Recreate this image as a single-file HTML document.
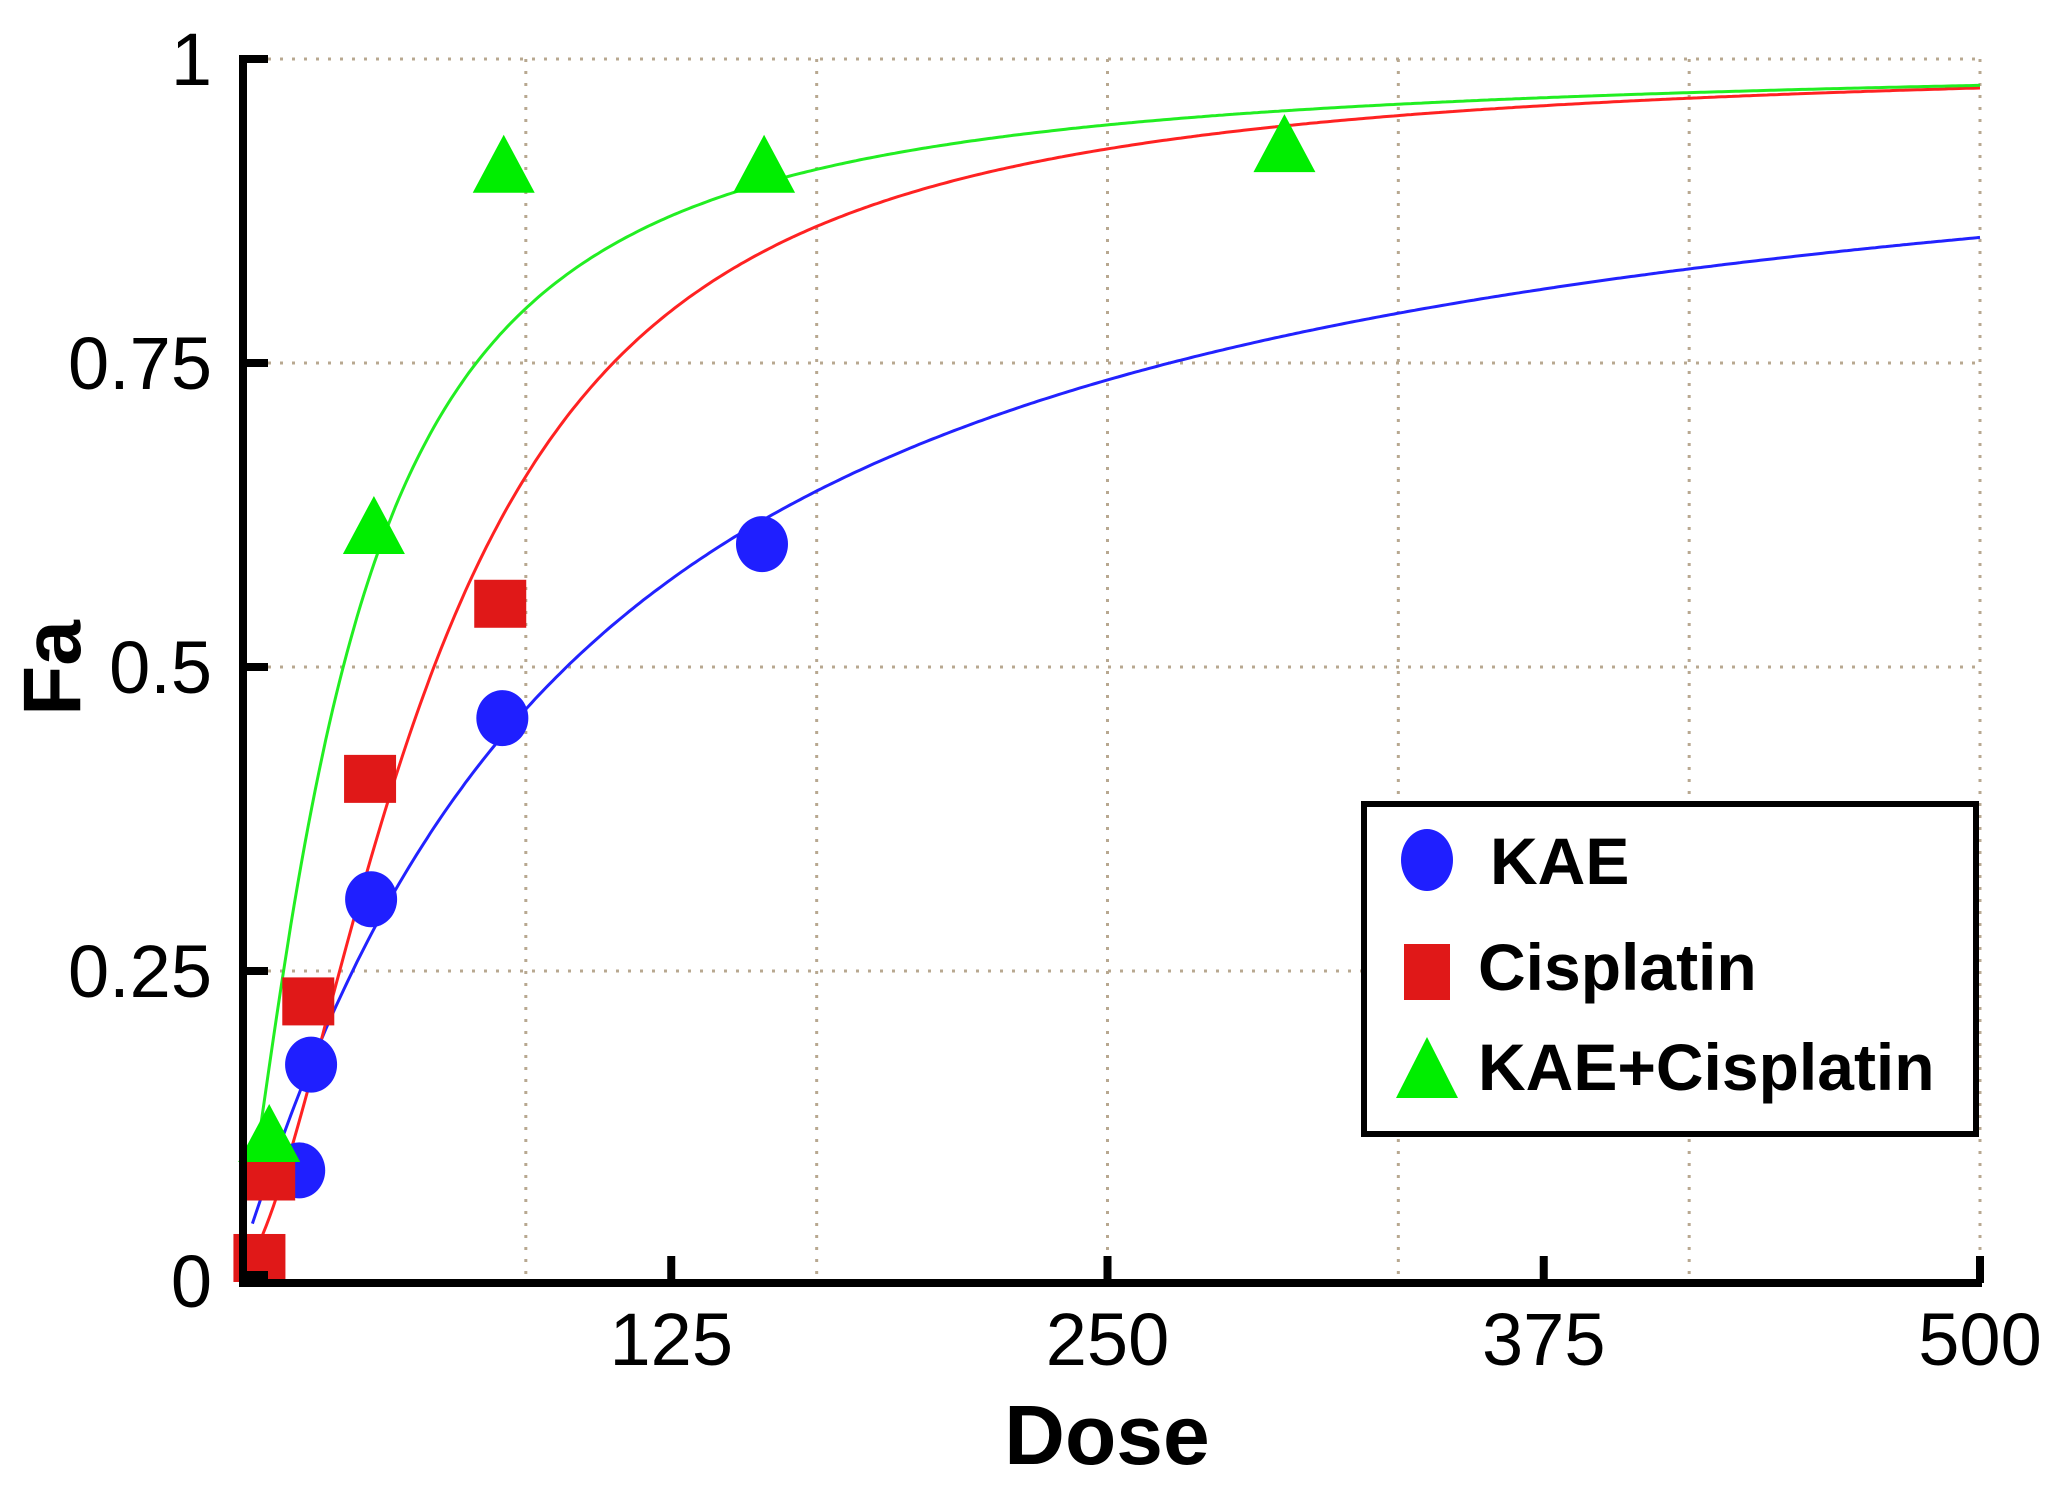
<!DOCTYPE html>
<html><head><meta charset="utf-8"><style>
html,body{margin:0;padding:0;background:#fff;}
svg{display:block;font-family:"Liberation Sans",sans-serif;}
</style></head><body>
<svg id="chart" width="2054" height="1487" viewBox="0 0 2054 1487" xmlns="http://www.w3.org/2000/svg">
<g id="grid"></g>
<g id="curves"></g>
<g id="points"></g>
<g id="axes"></g>
<text x="0" y="0" transform="translate(80,668) rotate(-90)" text-anchor="middle" font-size="82" font-weight="bold">Fa</text>
<text x="1107" y="1464" text-anchor="middle" font-size="84" font-weight="bold">Dose</text>
<g>
<rect x="1364" y="804" width="612" height="330" fill="#fff" stroke="#000" stroke-width="6"/>
<g>
<ellipse cx="1427" cy="860" rx="26" ry="31" fill="#1f1fff"/>
<text x="1490" y="884" font-size="66" font-weight="bold">KAE</text></g>
<g>
<rect x="1404" y="944" width="46" height="56" fill="#e01818"/>
<text x="1478" y="990" font-size="66" font-weight="bold">Cisplatin</text></g>
<g>
<polygon points="1427,1037 1458,1098 1396,1098" fill="#00ee00"/>
<text x="1478" y="1090" font-size="66" font-weight="bold">KAE+Cisplatin</text></g>
</g>
</svg>
<script>
const xTicks=[125,250,375,500];
const yTicks=[0,0.25,0.5,0.75,1];
const yTickLabels=["0","0.25","0.5","0.75","1"];
const xGrid=[83.33,166.67,250,333.33,416.67,500];
const kaeDose=[18.4,21.8,39,76.6,151];
const kaeFa=[0.086,0.173,0.309,0.458,0.601];
const cisDose=[7,9.8,21,38.7,76];
const cisFa=[0.014,0.081,0.225,0.408,0.552];
const comboDose=[9.8,39.8,77,151.6,300.7];
const comboFa=[0.116,0.616,0.913,0.913,0.93];
const curveDm=[95,57,31];
const curveM=[1.06,1.71,1.37];
const curveColors=["#2222ff","#ff2222","#22ee22"];

const NS="http://www.w3.org/2000/svg";
function X(d){return 235+3.49*d;}
function Y(f){return 1275-1216*f;}
function mk(tag,attrs,parent){const e=document.createElementNS(NS,tag);for(const k in attrs)e.setAttribute(k,attrs[k]);parent.appendChild(e);return e;}
const grid=document.getElementById('grid'),axes=document.getElementById('axes'),curves=document.getElementById('curves'),points=document.getElementById('points');
xGrid.forEach(d=>{const l=mk('line',{x1:X(d),x2:X(d),y1:Y(1),y2:1283,stroke:'#b8a890','stroke-width':3,'stroke-dasharray':'3 9'},grid);

});
yTicks.forEach(f=>{if(f===0)return;const l=mk('line',{x1:244,x2:1980,y1:Y(f),y2:Y(f),stroke:'#b8a890','stroke-width':3,'stroke-dasharray':'3 9'},grid);

});
// curves
curveDm.forEach((dm,i)=>{let p='';for(let d=5;d<=500;d+=1){const fa=1/(1+Math.pow(dm/d,curveM[i]));p+=(p?'L':'M')+X(d).toFixed(1)+','+Y(fa).toFixed(1);}
const c=mk('path',{d:p,fill:'none',stroke:curveColors[i],'stroke-width':3},curves);

});
// points
kaeDose.forEach((d,i)=>{const c=mk('ellipse',{cx:X(d),cy:Y(kaeFa[i]),rx:26,ry:28,fill:'#1f1fff'},points);

});
cisDose.forEach((d,i)=>{const c=mk('rect',{x:X(d)-26,y:Y(cisFa[i])-24,width:52,height:48,fill:'#e01818'},points);

});
comboDose.forEach((d,i)=>{const cx=X(d),cy=Y(comboFa[i]);const c=mk('polygon',{points:`${cx},${cy-30} ${cx+31},${cy+28} ${cx-31},${cy+28}`,fill:'#00ee00'},points);

});
// axes
const ya=mk('line',{x1:243,x2:243,y1:55,y2:1287,stroke:'#000','stroke-width':8},axes);


const xa=mk('line',{x1:239,x2:1982,y1:1283,y2:1283,stroke:'#000','stroke-width':8},axes);


yTicks.forEach((f,i)=>{const t=mk('line',{x1:243,x2:268,y1:Y(f),y2:Y(f),stroke:'#000','stroke-width':8},axes);


const tx=mk('text',{x:212,y:Y(f)+(i===0?24+8:26),'text-anchor':'end','font-size':74},axes);tx.textContent=yTickLabels[i];

});
xTicks.forEach(d=>{const t=mk('line',{x1:X(d),x2:X(d),y1:1283,y2:1256,stroke:'#000','stroke-width':8},axes);


const tx=mk('text',{x:X(d),y:1365,'text-anchor':'middle','font-size':74},axes);tx.textContent=String(d);

});
</script>
</body></html>
